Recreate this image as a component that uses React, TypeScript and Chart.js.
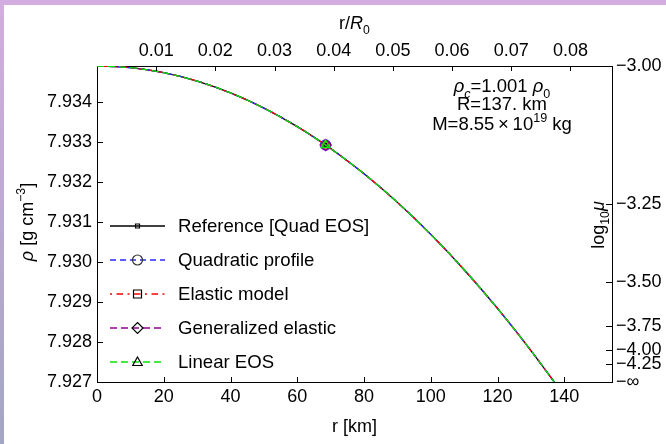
import React, { useEffect, useRef } from "react";
import { Chart, registerables } from "chart.js";

Chart.register(...registerables);

// ---------- data ----------
const radiusKm = [0, 10, 20, 30, 40, 50, 60, 68.5, 70, 80, 90, 100, 110, 120, 130, 137];
const densityReference = [7.934893, 7.934851, 7.934725, 7.934515, 7.93422, 7.933842, 7.933379, 7.93292, 7.932832, 7.932202, 7.931487, 7.930688, 7.929805, 7.928837, 7.927786, 7.927];
const densityQuadratic = [7.934893, 7.934851, 7.934725, 7.934515, 7.93422, 7.933842, 7.933379, 7.93292, 7.932832, 7.932202, 7.931487, 7.930688, 7.929805, 7.928837, 7.927786, 7.927];
const densityElastic = [7.934893, 7.934851, 7.934725, 7.934515, 7.93422, 7.933842, 7.933379, 7.93292, 7.932832, 7.932202, 7.931487, 7.930688, 7.929805, 7.928837, 7.927786, 7.927];
const densityGeneralized = [7.934893, 7.934851, 7.934725, 7.934515, 7.93422, 7.933842, 7.933379, 7.93292, 7.932832, 7.932202, 7.931487, 7.930688, 7.929805, 7.928837, 7.927786, 7.927];
const densityLinear = [7.934893, 7.934851, 7.934725, 7.934515, 7.93422, 7.933842, 7.933379, 7.93292, 7.932832, 7.932202, 7.931487, 7.930688, 7.929805, 7.928837, 7.927786, 7.927];
const markerRadiusKm = 68.5;

const seriesLabels = ["Reference [Quad EOS]", "Quadratic profile", "Elastic model", "Generalized elastic", "Linear EOS"];
const seriesColors = ["#000000", "#2a2aff", "#ff0000", "#8e008e", "#00e600"];

const bottomTicks = [0, 20, 40, 60, 80, 100, 120, 140];
const topTicks = [0.01, 0.02, 0.03, 0.04, 0.05, 0.06, 0.07, 0.08];
const leftTicks = [7.927, 7.928, 7.929, 7.93, 7.931, 7.932, 7.933, 7.934];
const rightTickExponents = [-3.0, -3.25, -3.5, -3.75, -4.0, -4.25];
const rightTickLabels = ["\u22123.00", "\u22123.25", "\u22123.50", "\u22123.75", "\u22124.00", "\u22124.25", "\u2212\u221e"];

const R0km = 1773;
const rhoCentral = 7.934893;
const rhoSurface = 7.927;
const xMaxKm = 154.3;

// ---------- styling ----------
const FONT = "'Liberation Sans', Arial, Helvetica, sans-serif";
const dashes = [[], [6, 4], [2, 4.5, 6.5, 4.5], [7, 4], [7, 4]];
const pointStyles = ["rect", "circle", "rect", "rectRot", "triangle"];
const pointSizes = [2, 5, 4, 5.5, 5];

type Seg = { t: string; i?: boolean; sub?: boolean; sup?: boolean };

function segFont(s: Seg, size: number) {
  const sz = s.sub || s.sup ? size * 0.68 : size;
  return `${s.i ? "italic " : ""}${sz}px ${FONT}`;
}
function richWidth(ctx: CanvasRenderingContext2D, segs: Seg[], size: number) {
  let w = 0;
  for (const s of segs) {
    ctx.font = segFont(s, size);
    w += ctx.measureText(s.t).width;
  }
  return w;
}
function drawRich(ctx: CanvasRenderingContext2D, segs: Seg[], x: number, y: number, size: number, align: "center" | "left") {
  const w = richWidth(ctx, segs, size);
  let cx = align === "center" ? x - w / 2 : x;
  ctx.textAlign = "left";
  ctx.textBaseline = "alphabetic";
  ctx.fillStyle = "#000";
  for (const s of segs) {
    ctx.font = segFont(s, size);
    const dy = s.sub ? size * 0.3 : s.sup ? -size * 0.42 : 0;
    ctx.fillText(s.t, cx, y + dy);
    cx += ctx.measureText(s.t).width;
  }
}

function drawMarker(ctx: CanvasRenderingContext2D, style: string, x: number, y: number, r: number) {
  ctx.beginPath();
  if (style === "circle") {
    ctx.arc(x, y, r, 0, Math.PI * 2);
  } else if (style === "rect") {
    ctx.rect(x - r, y - r, 2 * r, 2 * r);
  } else if (style === "rectRot") {
    ctx.moveTo(x, y - r);
    ctx.lineTo(x + r, y);
    ctx.lineTo(x, y + r);
    ctx.lineTo(x - r, y);
    ctx.closePath();
  } else if (style === "triangle") {
    ctx.moveTo(x, y - r);
    ctx.lineTo(x + r * 0.95, y + r * 0.7);
    ctx.lineTo(x - r * 0.95, y + r * 0.7);
    ctx.closePath();
  }
  ctx.stroke();
}

const customPlugin = {
  id: "customDecor",
  beforeDraw(chart: any) {
    const ctx = chart.ctx as CanvasRenderingContext2D;
    ctx.save();
    ctx.fillStyle = "#ffffff";
    ctx.fillRect(0, 0, chart.width, chart.height);
    ctx.fillStyle = "#d3addf";
    ctx.fillRect(0, 0, chart.width, 5);
    const g = ctx.createLinearGradient(0, 0, 0, chart.height);
    g.addColorStop(0, "#d3addf");
    g.addColorStop(1, "#a3a6c3");
    ctx.fillStyle = g;
    ctx.fillRect(0, 0, 4, chart.height);
    ctx.restore();
  },
  afterDraw(chart: any) {
    const ctx = chart.ctx as CanvasRenderingContext2D;
    const a = chart.chartArea;
    const sx = chart.scales.x, sx2 = chart.scales.x2, sy = chart.scales.y, sy2 = chart.scales.y2;
    ctx.save();
    // inward tick marks
    ctx.strokeStyle = "#000";
    ctx.lineWidth = 1;
    ctx.setLineDash([]);
    ctx.beginPath();
    for (const t of sx.ticks) {
      const p = Math.round(sx.getPixelForValue(t.value)) + 0.5;
      ctx.moveTo(p, a.bottom);
      ctx.lineTo(p, a.bottom - 5);
    }
    for (const t of sx2.ticks) {
      const p = Math.round(sx2.getPixelForValue(t.value)) + 0.5;
      ctx.moveTo(p, a.top);
      ctx.lineTo(p, a.top + 5);
    }
    for (const t of sy.ticks) {
      const p = Math.round(sy.getPixelForValue(t.value)) + 0.5;
      ctx.moveTo(a.left, p);
      ctx.lineTo(a.left + 6, p);
    }
    for (const t of sy2.ticks) {
      const p = Math.round(sy2.getPixelForValue(t.value)) + 0.5;
      ctx.moveTo(a.right, p);
      ctx.lineTo(a.right - 6, p);
    }
    ctx.stroke();

    const midX = (a.left + a.right) / 2;
    const midY = (a.top + a.bottom) / 2;
    // axis titles
    drawRich(ctx, [{ t: "r [km]" }], midX, 432, 18, "center");
    drawRich(ctx, [{ t: "r/" }, { t: "R", i: true }, { t: "0", sub: true }], midX, 29, 18, "center");
    ctx.save();
    ctx.translate(33, midY - 2);
    ctx.rotate(-Math.PI / 2);
    drawRich(ctx, [{ t: "\u03c1", i: true }, { t: " [g cm" }, { t: "\u22123", sup: true }, { t: "]" }], 0, 0, 18, "center");
    ctx.restore();
    ctx.save();
    ctx.translate(604, midY + 1);
    ctx.rotate(-Math.PI / 2);
    drawRich(ctx, [{ t: "log" }, { t: "10", sub: true }, { t: "\u03bc", i: true }], 0, 0, 18, "center");
    ctx.restore();

    // annotation
    const ax = 502;
    drawRich(ctx, [{ t: "\u03c1", i: true }, { t: "c", i: true, sub: true }, { t: "=1.001 " }, { t: "\u03c1", i: true }, { t: "0", sub: true }], ax, 92, 18.5, "center");
    drawRich(ctx, [{ t: "R=137. km" }], ax, 110, 18.5, "center");
    drawRich(ctx, [{ t: "M=8.55\u2009\u00d7\u200910" }, { t: "19", sup: true }, { t: " kg" }], ax, 130, 18.5, "center");

    // legend
    const lx0 = a.left + 13, lx1 = a.left + 68, mx = a.left + 40.5, tx = a.left + 81;
    seriesLabels.forEach((label, i) => {
      const y = a.top + 159.5 + 34 * i + 0.5;
      ctx.strokeStyle = seriesColors[i];
      ctx.lineWidth = 1.3;
      ctx.setLineDash(dashes[i]);
      ctx.beginPath();
      ctx.moveTo(lx0, y);
      ctx.lineTo(lx1, y);
      ctx.stroke();
      ctx.setLineDash([]);
      ctx.strokeStyle = i === 1 ? "#333" : "#000";
      ctx.lineWidth = 1.2;
      drawMarker(ctx, pointStyles[i], mx, y, i === 0 ? 2 : pointSizes[i]);
      ctx.font = `18.6px ${FONT}`;
      ctx.fillStyle = "#000";
      ctx.textAlign = "left";
      ctx.textBaseline = "middle";
      ctx.fillText(label, tx, y + 1);
    });
    ctx.restore();
  },
};

const seriesValues = [densityReference, densityQuadratic, densityElastic, densityGeneralized, densityLinear];

export default function App() {
  const ref = useRef<HTMLCanvasElement | null>(null);
  useEffect(() => {
    const canvas = ref.current!;
    const tickFont = { family: FONT, size: 18 };
    const common = (h: number | null, w: number | null) => ({
      grid: { display: true, drawOnChartArea: false, drawTicks: false },
      border: { display: true, color: "#000", width: 1 },
      afterFit: (s: any) => {
        if (h !== null) s.height = h;
        if (w !== null) s.width = w;
      },
    });
    const chart = new Chart(canvas, {
      type: "line",
      data: {
        datasets: seriesLabels.map((label, i) => ({
          label,
          data: radiusKm.map((r, j) => ({ x: r, y: seriesValues[i][j] })),
          borderColor: seriesColors[i],
          backgroundColor: "rgba(0,0,0,0)",
          borderWidth: 1.3,
          borderDash: dashes[i],
          cubicInterpolationMode: "monotone" as const,
          pointStyle: pointStyles[i] as any,
          pointRadius: radiusKm.map((r) => (r === markerRadiusKm ? pointSizes[i] : 0)),
          pointBorderColor: seriesColors[i],
          pointBackgroundColor: "rgba(0,0,0,0)",
          pointBorderWidth: 1.4,
          order: 5 - i,
          fill: false,
        })),
      },
      options: {
        responsive: false,
        animation: false,
        devicePixelRatio: 1,
        layout: { padding: 0, autoPadding: false },
        events: [],
        plugins: { legend: { display: false }, tooltip: { enabled: false }, title: { display: false } },
        scales: {
          x: {
            type: "linear",
            position: "bottom",
            min: 0,
            max: xMaxKm,
            ...common(62, null),
            afterBuildTicks: (s: any) => {
              s.ticks = bottomTicks.map((v) => ({ value: v }));
            },
            ticks: { autoSkip: false, maxRotation: 0, minRotation: 0, padding: 4, color: "#000", font: tickFont, callback: (v: any) => String(v) },
          },
          x2: {
            type: "linear",
            axis: "x",
            position: "top",
            min: 0,
            max: xMaxKm / R0km,
            ...common(66, null),
            afterBuildTicks: (s: any) => {
              s.ticks = topTicks.map((v) => ({ value: v }));
            },
            ticks: { autoSkip: false, maxRotation: 0, minRotation: 0, padding: 4, color: "#000", font: tickFont, callback: (v: any) => Number(v).toFixed(2) },
          },
          y: {
            type: "linear",
            position: "left",
            min: rhoSurface,
            max: rhoCentral,
            ...common(null, 97),
            afterBuildTicks: (s: any) => {
              s.ticks = leftTicks.map((v) => ({ value: v }));
            },
            ticks: { autoSkip: false, padding: 5, color: "#000", font: tickFont, callback: (v: any) => Number(v).toFixed(3) },
          },
          y2: {
            type: "linear",
            axis: "y",
            position: "right",
            min: 0,
            max: 1,
            ...common(null, 54),
            afterBuildTicks: (s: any) => {
              s.ticks = rightTickExponents.map((e) => ({ value: Math.pow(10, e + 3) })).concat([{ value: 0 }]);
            },
            ticks: { autoSkip: false, padding: 4, color: "#000", font: tickFont, callback: (_v: any, i: number) => rightTickLabels[i] },
          },
        },
      } as any,
      plugins: [customPlugin],
    });
    return () => chart.destroy();
  }, []);
  return (
    <div style={{ position: "fixed", left: 0, top: 0, width: 666, height: 444 }}>
      <canvas ref={ref} width={666} height={444} style={{ width: 666, height: 444, display: "block" }} />
    </div>
  );
}
